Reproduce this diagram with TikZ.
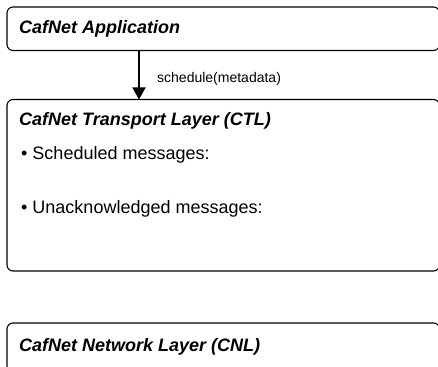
\documentclass[tikz,border=0pt]{standalone}
\usepackage{fontspec}
\setmainfont{Liberation Sans}
\usetikzlibrary{arrows.meta}
\tikzset{
  layer/.style={draw=black, line width=1.1pt, rounded corners=6pt},
  ttl/.style={anchor=base west, inner sep=0pt, font=\fontsize{18}{21}\selectfont\bfseries\itshape},
  item/.style={anchor=base west, inner sep=0pt, font=\fontsize{18}{21}\selectfont},
  lbl/.style={anchor=base west, inner sep=0pt, font=\fontsize{14}{16}\selectfont},
}
\begin{document}
\begin{tikzpicture}[x=1pt,y=-1pt]
\useasboundingbox (0,0) rectangle (438,366);
\begin{scope}
\clip (0,0) rectangle (438,366);
\draw[layer] (7,7) rectangle (439.5,50.5);
\draw[layer] (7,99.5) rectangle (439.5,271);
\draw[layer] (7,323) rectangle (439.5,372);
\end{scope}
\coordinate (appb) at (139,50.5);
\coordinate (ctlt) at (139,99.5);
\draw[line width=1.5pt, -{Triangle[width=13pt,length=12pt]}] (appb) -- (ctlt);
\node[lbl] (sched) at (157,82.5) {schedule(metadata)};
\node[ttl] (app) at (19,33.5) {CafNet Application};
\node[ttl] (ctl) at (19,126) {CafNet Transport Layer (CTL)};
\node[item] (s1) at (21,159.5) {• Scheduled messages:};
\node[item] (s2) at (21,213) {• Unacknowledged messages:};
\node[ttl] (cnl) at (19,351.5) {CafNet Network Layer (CNL)};
\end{tikzpicture}
\end{document}
